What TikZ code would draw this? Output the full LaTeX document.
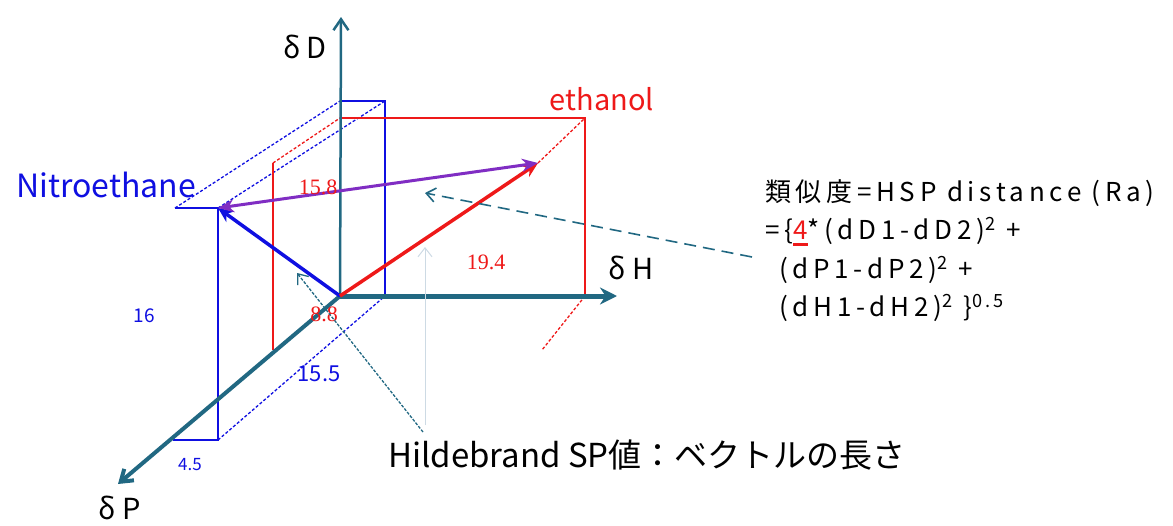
\documentclass[tikz,border=0pt]{standalone}
\usepackage{fontspec}
\setmainfont{Noto Sans CJK JP}
\newfontfamily\spacedjp[LetterSpace=18]{Noto Sans CJK JP}
\newfontfamily\numserif{Liberation Serif}
\usetikzlibrary{arrows.meta}
\definecolor{axisteal}{RGB}{33,104,130}
\definecolor{nitroblue}{RGB}{15,15,225}
\definecolor{ethred}{RGB}{238,25,25}
\definecolor{rapurple}{RGB}{128,45,195}
\definecolor{faintblue}{RGB}{205,218,228}

\begin{document}
\begin{tikzpicture}[x=1pt, y=-1pt,
    axisline/.style={axisteal, line width=3pt, -{Straight Barb[length=11pt, width=15pt]}},
    solidedge/.style={line width=1.8pt},
    hiddenedge/.style={line width=1.3pt, dash pattern=on 3pt off 2pt},
    vec/.style={line width=3.5pt, -{Stealth[length=15pt, width=13pt]}},
    callout/.style={axisteal, line width=1.6pt, -{Straight Barb[length=9pt, width=14pt]}},
    lbl/.style={font=\fontsize{29}{31}\selectfont, inner sep=0pt},
    num/.style={font=\fontsize{19}{21}\selectfont, inner sep=0pt}]
  \useasboundingbox (0,0) rectangle (1173,525);

  % origin and axis ends
  \coordinate (O) at (340,296);
  \coordinate (Dtip) at (341,17);
  \coordinate (Htip) at (617,296);
  \coordinate (Ptip) at (118,484);

  % Nitroethane box
  \coordinate (nb1) at (340,101);
  \coordinate (nb2) at (385,101);
  \coordinate (nb3) at (385,296);
  \coordinate (nf1) at (175,208);
  \coordinate (nf2) at (218,208);
  \coordinate (nf3) at (218,440);
  \coordinate (nf4) at (173,440);
  \draw[nitroblue, solidedge] (nb1) -- (nb2) -- (nb3);
  \draw[nitroblue, solidedge] (nf1) -- (nf2) -- (nf3) -- (nf4);
  \draw[nitroblue, hiddenedge] (nf1) -- (nb1);
  \draw[nitroblue, hiddenedge] (nf2) -- (nb2);
  \draw[nitroblue, hiddenedge] (nf3) -- (nb3);

  % ethanol box
  \coordinate (eb1) at (340,118);
  \coordinate (eb2) at (585,118);
  \coordinate (eb3) at (585,296);
  \coordinate (ef1) at (273,163);
  \coordinate (ef2) at (538,163);
  \coordinate (ef3) at (542,350);
  \coordinate (ef4) at (273,350);
  \draw[ethred, solidedge] (eb1) -- (eb2) -- (eb3);
  \draw[ethred, solidedge] (ef1) -- (ef4);
  \draw[ethred, hiddenedge] (ef1) -- (eb1);
  \draw[ethred, hiddenedge] (ef2) -- (eb2);
  \draw[ethred, hiddenedge] (eb3) -- (ef3);

  % axes
  \draw[axisline, line width=2.5pt] (O) -- (Dtip);
  \draw[axisline, line width=5pt, -{Stealth[length=17pt, width=17pt]}] (O) -- (Htip);
  \draw[axisline, line width=4pt] (O) -- (Ptip);
  \node[lbl] (dD) at (305,47) {δ D};
  \node[lbl] (dH) at (631,268) {δ H};
  \node[lbl] (dP) at (120,508) {δ P};

  % HSP vectors
  \draw[vec, nitroblue] (O) -- (nf2);
  \draw[vec, ethred] (O) -- (ef2);
  \draw[rapurple, line width=3pt, {Stealth[length=16pt, width=13pt]}-{Stealth[length=16pt, width=13pt]}]
      (ef2) -- (nf2);
  \node[lbl, ethred] (ethanol) at (602,99) {ethanol};
  \node[lbl, nitroblue, font=\fontsize{32}{34}\selectfont] (nitro) at (106,185) {Nitroethane};

  % component values
  \node[num, nitroblue] (vD) at (144,316) {16};
  \node[num, nitroblue, font=\fontsize{17}{19}\selectfont] (vH) at (190,465) {4.5};
  \node[num, nitroblue, font=\fontsize{22}{24}\selectfont] (vP) at (319,374) {15.5};
  \node[num, ethred, font=\numserif\fontsize{22}{24}\selectfont] (eD) at (318,187) {15.8};
  \node[num, ethred, font=\numserif\fontsize{22}{24}\selectfont] (eH) at (486,262) {19.4};
  \node[num, ethred, font=\numserif\fontsize{22}{24}\selectfont] (eP) at (324,314) {8.8};

  % explanations
  \node[anchor=north west, inner sep=0pt, align=left,
        font=\spacedjp\fontsize{26}{38.5}\selectfont] (formula) at (765,179)
      {類似度=HSP distance (Ra)\\
       =\{{\color{ethred}\rlap{\rule[-6pt]{15pt}{3pt}}4}*(dD1-dD2)\textsuperscript{2} +\\
       \hspace*{14pt}(dP1-dP2)\textsuperscript{2} +\\
       \hspace*{14pt}(dH1-dH2)\textsuperscript{2} \}\textsuperscript{0.5}};
  \node[anchor=west, inner sep=0pt, font=\fontsize{33}{35}\selectfont] (hilde) at (388,455)
      {Hildebrand SP値：ベクトルの長さ};

  % callouts
  \coordinate (raend) at (752,257);
  \coordinate (rahit) at (425,193);
  \coordinate (spend) at (423,432);
  \coordinate (sphit) at (297,273);
  \coordinate (lenend) at (425,425);
  \coordinate (lenhit) at (425,247);
  \draw[callout, dash pattern=on 12pt off 7pt] (raend) -- (rahit);
  \draw[callout, line width=1.3pt, dash pattern=on 3pt off 1.5pt] (spend) -- (sphit);
  \draw[callout, faintblue, line width=1pt] (lenend) -- (lenhit);
\end{tikzpicture}
\end{document}
